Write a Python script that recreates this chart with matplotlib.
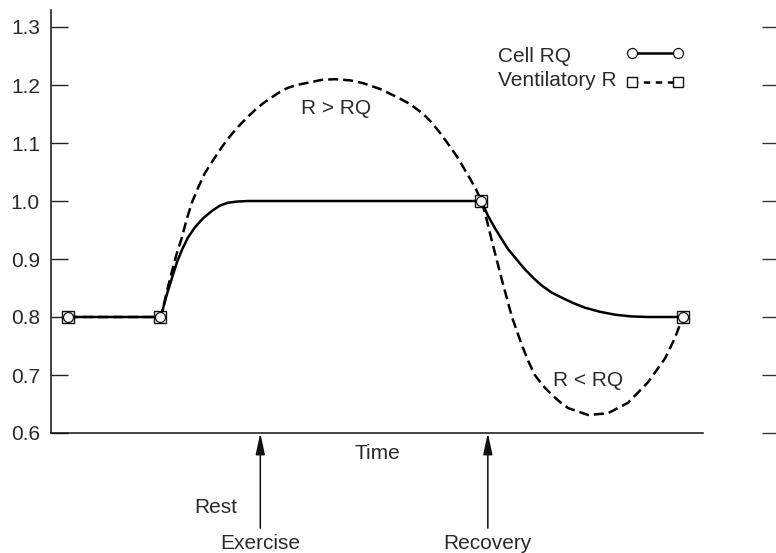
import matplotlib
matplotlib.use("Agg")
import matplotlib.pyplot as plt

plt.rcParams['font.family'] = ['Liberation Sans', 'DejaVu Sans']

# ---- data (time in arbitrary units, 0..100 along the axis) ----
cell_t = [2.6, 16.7, 17.0, 17.8, 18.6, 19.3, 20.1, 21.0, 22.1, 23.3, 24.7, 25.9, 27.1, 28.5, 30.2, 32.4,
          66.0, 67.0, 68.1, 69.2, 70.1, 71.5, 72.7, 74.1, 75.3, 76.8, 78.4, 80.1, 81.9, 84.2, 86.5,
          89.0, 91.6, 94.2, 96.9]
cell_rq = [0.800, 0.800, 0.807, 0.840, 0.869, 0.894, 0.916, 0.937, 0.955, 0.970, 0.983, 0.992, 0.997, 0.999, 1.000, 1.000,
           1.000, 0.975, 0.953, 0.933, 0.917, 0.898, 0.882, 0.866, 0.854, 0.842, 0.833, 0.824, 0.816, 0.809, 0.804,
           0.801, 0.800, 0.800, 0.800]
cell_marks = [0, 1, 16, 34]

vent_t = [2.6, 16.7, 17.0, 17.8, 18.6, 19.3, 20.1, 20.8, 21.6, 22.6, 23.6, 24.9, 26.2, 27.4, 28.7,
          30.0, 31.3, 32.6, 33.9, 35.1, 36.3, 37.7, 39.0, 41.6, 43.6, 45.9, 47.9, 50.5, 53.1, 55.1,
          57.1, 58.4, 59.7, 61.0, 62.3, 63.3, 64.3, 65.2, 66.0, 66.6, 67.6, 69.2, 70.7, 72.2, 73.2,
          74.2, 75.5, 76.8, 78.1, 79.3, 82.4, 85.4, 88.5, 91.6, 94.2, 95.7, 96.9]
vent_r = [0.800, 0.800, 0.807, 0.845, 0.881, 0.910, 0.938, 0.968, 0.997, 1.024, 1.048, 1.071, 1.093, 1.111, 1.128,
          1.143, 1.157, 1.169, 1.179, 1.188, 1.195, 1.200, 1.203, 1.209, 1.210, 1.208, 1.203, 1.193, 1.179, 1.167,
          1.150, 1.135, 1.117, 1.097, 1.076, 1.057, 1.038, 1.020, 1.000, 0.978, 0.932, 0.862, 0.800, 0.752, 0.724,
          0.700, 0.681, 0.666, 0.653, 0.643, 0.631, 0.634, 0.652, 0.688, 0.729, 0.764, 0.800]
vent_marks = [0, 1, 38, 56]

y_ticks = [0.6, 0.7, 0.8, 0.9, 1.0, 1.1, 1.2, 1.3]
y_tick_labels = ["0.6", "0.7", "0.8", "0.9", "1.0", "1.1", "1.2", "1.3"]
series_labels = ["Cell RQ", "Ventilatory R"]
event_times = [32.1, 67.0]
event_labels = ["Exercise", "Recovery"]

# ---- layout ----
W, H = 776, 553
fig = plt.figure(figsize=(W / 100, H / 100), dpi=100)
ymin, ymax = 0.6, 1.33
bottom = 120 / H
height = (433 - 9.6) / H
ax = fig.add_axes([51 / W, bottom, (703 - 51) / W, height])
ax.set_xlim(0, 100)
ax.set_ylim(ymin, ymax)

txt_col = '#2a2a2a'
fs = 15

for s in ['top', 'right']:
    ax.spines[s].set_visible(False)
for s in ['left', 'bottom']:
    ax.spines[s].set_linewidth(1.1)
    ax.spines[s].set_color('#111111')

ax.set_xticks([])
ax.set_yticks(y_ticks)
ax.set_yticklabels(y_tick_labels)
ax.tick_params(axis='y', direction='in', length=12.5, width=1.0, color='#222222',
               pad=8, labelsize=fs, labelcolor=txt_col)

lw = 1.8
# dashed ventilatory R
ax.plot(vent_t, vent_r, color='black', lw=lw, linestyle=(0, (4.0, 2.0)),
        dash_joinstyle='round', marker='s', markevery=vent_marks, markersize=8,
        markerfacecolor='white', markeredgecolor='#111111', markeredgewidth=1.0,
        zorder=3, clip_on=False)
# solid cell RQ
ax.plot(cell_t, cell_rq, color='black', lw=lw, solid_joinstyle='round', zorder=4, clip_on=False)
ax.plot([cell_t[i] for i in cell_marks], [cell_rq[i] for i in cell_marks], linestyle='none',
        marker='o', markersize=7.2, markerfacecolor='white', markeredgecolor='#111111',
        markeredgewidth=0.9, zorder=5, clip_on=False)

# legend drawn manually (text left, handle right)
ax.text(68.6, 1.249, series_labels[0], fontsize=fs, color=txt_col, va='center', ha='left')
ax.text(68.6, 1.207, series_labels[1], fontsize=fs, color=txt_col, va='center', ha='left')
ax.plot([89.1, 96.2], [1.256, 1.256], color='black', lw=lw, marker='o', markersize=7.2,
        markerfacecolor='white', markeredgecolor='#111111', markeredgewidth=0.9)
ax.plot([89.1, 96.2], [1.205, 1.205], color='black', lw=lw, linestyle=(0.3, (2.6, 2.2)),
        marker='s', markersize=7.5, markerfacecolor='white', markeredgecolor='#111111',
        markeredgewidth=1.0)

# annotations inside
ax.text(43.7, 1.160, "R > RQ", fontsize=fs, color=txt_col, ha='center', va='center')
ax.text(82.4, 0.691, "R < RQ", fontsize=fs, color=txt_col, ha='center', va='center')

# below-axis labels and arrows
ax.text(50.0, 0.5655, "Time", fontsize=fs, color=txt_col, ha='center', va='center', clip_on=False)
ax.text(25.2, 0.4724, "Rest", fontsize=fs, color=txt_col, ha='center', va='center', clip_on=False)
for t, lab in zip(event_times, event_labels):
    ax.annotate("", xy=(t, 0.600), xytext=(t, 0.436), xycoords='data', textcoords='data',
                arrowprops=dict(arrowstyle='-|>,head_length=1.3,head_width=0.28', color='#111111',
                                lw=1.1, shrinkA=0, shrinkB=0), annotation_clip=False)
    ax.text(t, 0.4103, lab, fontsize=fs, color=txt_col, ha='center', va='center', clip_on=False)

# right-side bare tick marks
ax2 = fig.add_axes([762 / W, bottom, 14 / W, height])
ax2.set_ylim(ymin, ymax)
ax2.set_xlim(0, 1)
for s in ax2.spines.values():
    s.set_visible(False)
ax2.set_xticks([])
ax2.set_yticks(y_ticks)
ax2.tick_params(axis='y', direction='in', length=10.5, width=1.0, color='#333333', labelleft=False)
ax2.patch.set_alpha(0)

fig.savefig("out.png", dpi=100)
